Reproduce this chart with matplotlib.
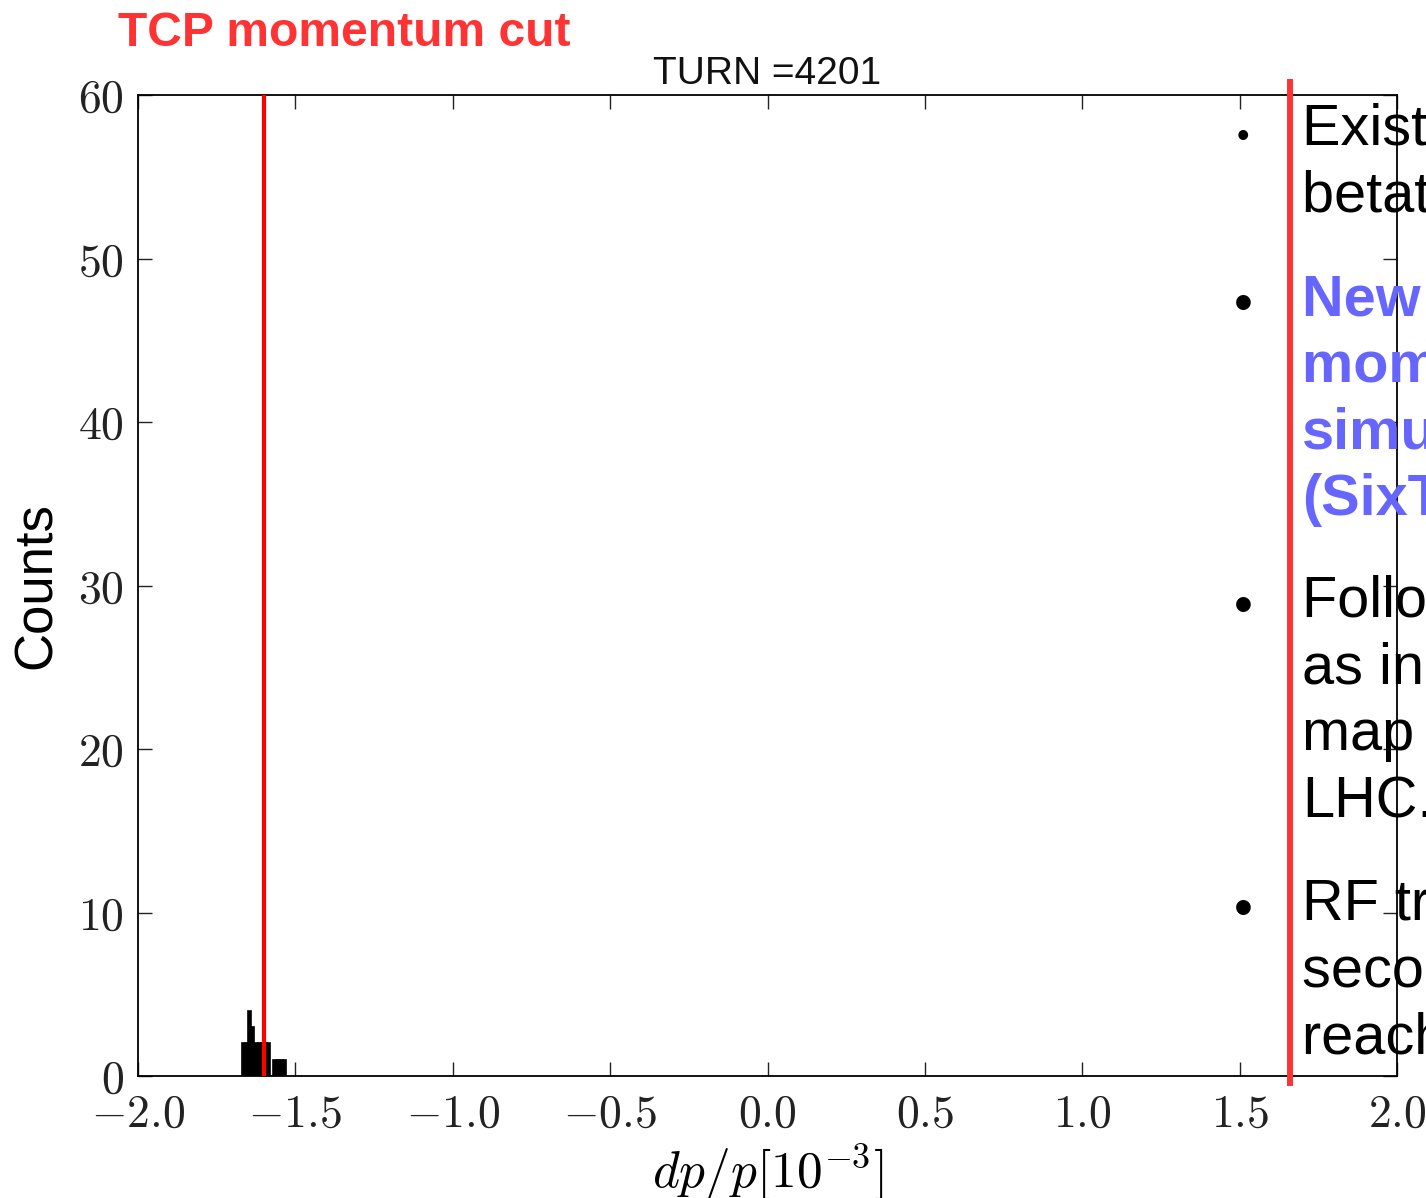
import matplotlib
matplotlib.use("Agg")
from matplotlib import pyplot as plt
from matplotlib.ticker import FuncFormatter

plt.rcParams['mathtext.fontset'] = 'cm'
plt.rcParams['font.family'] = ['Liberation Sans', 'DejaVu Sans']

# histogram of dp/p at turn 4201
bin_edges = [-1.67, -1.66, -1.65, -1.64, -1.63, -1.62, -1.61, -1.60, -1.59,
             -1.58, -1.57, -1.56, -1.55, -1.54, -1.53]
counts = [2, 2, 4, 3, 2, 2, 2, 2, 2, 0, 1, 1, 1, 1]

tcp_cut = -1.60      # red line inside the plot
slide_line = 1.66    # red separator line of the slide

x_ticks = [-2.0, -1.5, -1.0, -0.5, 0.0, 0.5, 1.0, 1.5, 2.0]
y_ticks = [0, 10, 20, 30, 40, 50, 60]

# slide text on the right (cut off by the page edge)
bullets = [
    (["Existing tools for", "betatron cleaning"], "black", "normal", 145, 10),
    (["New tools for off-", "momentum cleaning", "simulations", "(SixTrack)"],
     "#6666FF", "bold", 315, 15),
    (["Following the procedure", "as in the loss", "map studies for", "LHC."],
     "black", "normal", 617, 15),
    (["RF trip: protons", "secondary halo", "reach the TCP"], "black", "normal", 920, 15),
]

fig = plt.figure(figsize=(14.26, 11.98), dpi=100)
ax = fig.add_axes([0.0968, 0.1018, 0.8829, 0.8189])

ax.hist(bin_edges[:-1], bins=bin_edges, weights=counts, color='black',
        edgecolor='black', linewidth=1.2, zorder=2)
ax.axvline(tcp_cut, color='red', linewidth=3.0, zorder=3)
ax.axvline(slide_line, ymin=-0.007, ymax=1.013, color='#FF3333',
           linewidth=4.3, clip_on=False, zorder=5)

ax.set_xlim(-2, 2)
ax.set_ylim(0, 60)
ax.set_xticks(x_ticks)
ax.set_yticks(y_ticks)
ax.xaxis.set_major_formatter(FuncFormatter(lambda v, p: r'$%.1f$' % v))
ax.yaxis.set_major_formatter(FuncFormatter(lambda v, p: r'$%d$' % v))
ax.tick_params(direction='in', length=10, width=1, top=True, right=True,
               labelsize=33, colors='#222222')
ax.tick_params(axis='x', pad=12)
ax.tick_params(axis='y', pad=10)
for s in ax.spines.values():
    s.set_linewidth(1.3)

ax.set_title("TURN =4201", fontsize=28, pad=8, color='#111111')
ax.set_xlabel(r'$dp/p[10^{-3}]$', fontsize=37, labelpad=4)
ax.set_ylabel("Counts", fontsize=38, labelpad=12)

fig.text(118 / 1426, 1 - 46 / 1198, "TCP momentum cut", color='#FF3333',
         fontsize=34.6, fontweight='bold', va='baseline')

for lines, clr, wt, base, dot in bullets:
    fig.text(1243 / 1426, 1 - (base - 8) / 1198, u"\u2022", fontsize=dot * 2.6,
             ha='center', va='center', color='black')
    for i, line in enumerate(lines):
        fig.text(1302 / 1426, 1 - (base + i * 66.7) / 1198, line, color=clr,
                 fontsize=41.5, fontweight=wt, va='baseline')

fig.savefig("out.png", dpi=100)
